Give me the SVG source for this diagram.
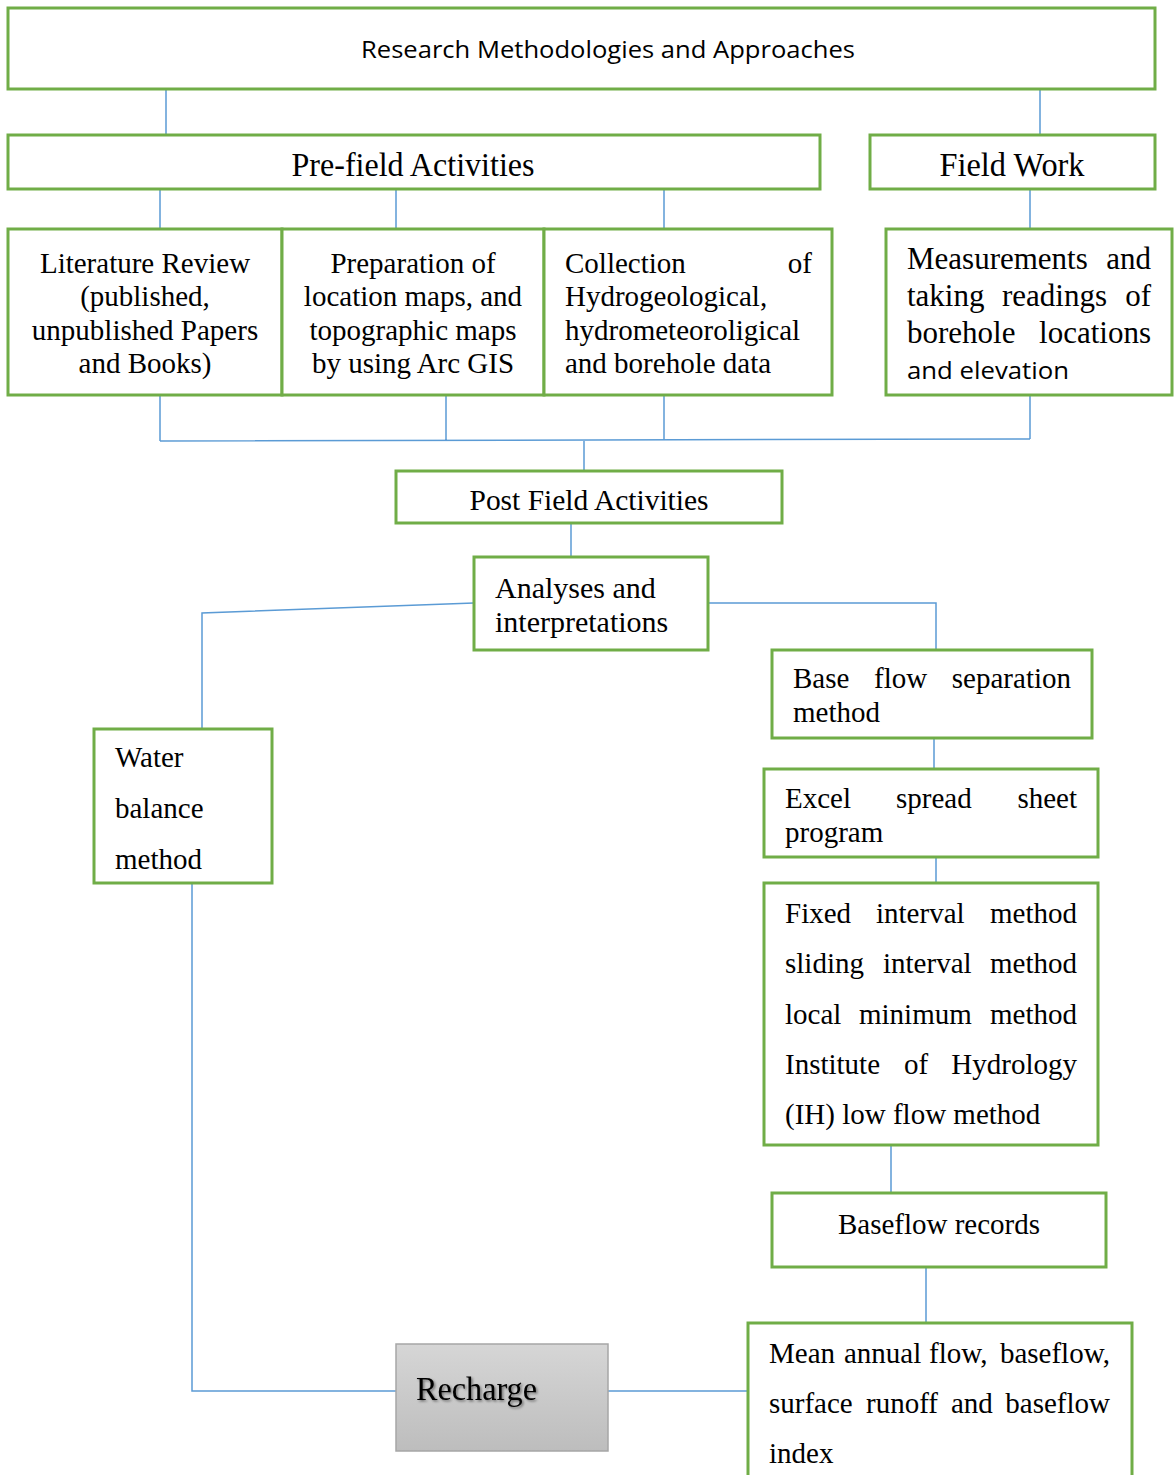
<svg xmlns="http://www.w3.org/2000/svg" width="1175" height="1475" viewBox="0 0 1175 1475">
<defs>
<style>
.box{fill:#fff;stroke:#70AD47;stroke-width:3}
.con{fill:none;stroke:#5B9BD5;stroke-width:1.5}
.t{font-family:"Liberation Serif","Times New Roman",serif;font-size:29px;fill:#000}
.c{text-anchor:middle}
.e{text-anchor:end}
.s{font-family:"Open Sans","Liberation Sans",sans-serif;fill:#000}
.m{font-size:31px}
.a{font-size:30px}
.h{font-size:34px}
</style>
<linearGradient id="gr" x1="0" y1="0" x2="0" y2="1">
<stop offset="0" stop-color="#d6d6d6"/>
<stop offset="1" stop-color="#bdbdbd"/>
</linearGradient>
<filter id="sh" x="-10%" y="-30%" width="120%" height="160%">
<feDropShadow dx="1.5" dy="1.5" stdDeviation="1.2" flood-color="#000" flood-opacity="0.45"/>
</filter>
</defs>
<rect width="1175" height="1475" fill="#fff"/>
<g id="connectors">
<path class="con" d="M166 89V135M1040 89V135"/>
<path class="con" d="M160 189V229M396 189V229M664 189V229M1030 189V229"/>
<path class="con" d="M160 395V441M446 395V440M664 395V440M1030 395V439M160 441L1030 439M584 440V471"/>
<path class="con" d="M571 523V557"/>
<path class="con" d="M474 603L202 613V729M708 603H936V650"/>
<path class="con" d="M934 738V769M936 857V883M891 1145V1193M926 1267V1323"/>
<path class="con" d="M192 883V1391H396M608 1391H748"/>
</g>
<g id="n-title">
<rect class="box" x="8" y="8" width="1147" height="81"/>
<text class="s c" x="608" y="58" font-size="23" textLength="494" lengthAdjust="spacingAndGlyphs">Research Methodologies and Approaches</text>
</g>
<g id="n-prefield">
<rect class="box" x="8" y="135" width="812" height="54"/>
<text class="t c h" x="413" y="176" textLength="243" lengthAdjust="spacingAndGlyphs">Pre-field Activities</text>
</g>
<g id="n-fieldwork">
<rect class="box" x="870" y="135" width="285" height="54"/>
<text class="t c h" x="1012" y="176" textLength="145" lengthAdjust="spacingAndGlyphs">Field Work</text>
</g>
<g id="n-literature">
<rect class="box" x="8" y="229" width="274" height="166"/>
<text class="t c" x="145" y="273">Literature Review</text>
<text class="t c" x="145" y="306">(published,</text>
<text class="t c" x="145" y="340">unpublished Papers</text>
<text class="t c" x="145" y="373">and Books)</text>
</g>
<g id="n-preparation">
<rect class="box" x="282" y="229" width="262" height="166"/>
<text class="t c" x="413" y="273">Preparation of</text>
<text class="t c" x="413" y="306">location maps, and</text>
<text class="t c" x="413" y="340">topographic maps</text>
<text class="t c" x="413" y="373">by using Arc GIS</text>
</g>
<g id="n-collection">
<rect class="box" x="544" y="229" width="288" height="166"/>
<text class="t" x="565" y="273">Collection</text>
<text class="t e" x="812" y="273">of</text>
<text class="t" x="565" y="306">Hydrogeological,</text>
<text class="t" x="565" y="340">hydrometeoroligical</text>
<text class="t" x="565" y="373">and borehole data</text>
</g>
<g id="n-measurements">
<rect class="box" x="886" y="229" width="286" height="166"/>
<text class="t m" x="907" y="269">Measurements</text>
<text class="t m e" x="1151" y="269">and</text>
<text class="t m" x="907" y="306">taking</text>
<text class="t m" x="1002" y="306">readings</text>
<text class="t m e" x="1151" y="306">of</text>
<text class="t m" x="907" y="343">borehole</text>
<text class="t m e" x="1151" y="343">locations</text>
<text class="s" x="907" y="379" font-size="24" textLength="162" lengthAdjust="spacingAndGlyphs">and elevation</text>
</g>
<g id="n-postfield">
<rect class="box" x="396" y="471" width="386" height="52"/>
<text class="t c a" x="589" y="510" textLength="239" lengthAdjust="spacingAndGlyphs">Post Field Activities</text>
</g>
<g id="n-analyses">
<rect class="box" x="474" y="557" width="234" height="93"/>
<text class="t a" x="495" y="598">Analyses and</text>
<text class="t a" x="495" y="632">interpretations</text>
</g>
<g id="n-water">
<rect class="box" x="94" y="729" width="178" height="154"/>
<text class="t" x="115" y="767">Water</text>
<text class="t" x="115" y="818">balance</text>
<text class="t" x="115" y="869">method</text>
</g>
<g id="n-baseflowsep">
<rect class="box" x="772" y="650" width="320" height="88"/>
<text class="t" x="793" y="688">Base</text>
<text class="t" x="874" y="688">flow</text>
<text class="t e" x="1071" y="688">separation</text>
<text class="t" x="793" y="722">method</text>
</g>
<g id="n-excel">
<rect class="box" x="764" y="769" width="334" height="88"/>
<text class="t" x="785" y="808">Excel</text>
<text class="t" x="896" y="808">spread</text>
<text class="t e" x="1077" y="808">sheet</text>
<text class="t" x="785" y="842">program</text>
</g>
<g id="n-methods">
<rect class="box" x="764" y="883" width="334" height="262"/>
<text class="t" x="785" y="923">Fixed</text>
<text class="t" x="876" y="923">interval</text>
<text class="t e" x="1077" y="923">method</text>
<text class="t" x="785" y="973">sliding</text>
<text class="t" x="883" y="973">interval</text>
<text class="t e" x="1077" y="973">method</text>
<text class="t" x="785" y="1024">local</text>
<text class="t" x="859" y="1024">minimum</text>
<text class="t e" x="1077" y="1024">method</text>
<text class="t" x="785" y="1074">Institute</text>
<text class="t" x="904" y="1074">of</text>
<text class="t e" x="1077" y="1074">Hydrology</text>
<text class="t" x="785" y="1124">(IH) low flow method</text>
</g>
<g id="n-records">
<rect class="box" x="772" y="1193" width="334" height="74"/>
<text class="t c" x="939" y="1234">Baseflow records</text>
</g>
<g id="n-mean">
<rect class="box" x="748" y="1323" width="384" height="160"/>
<text class="t" x="769" y="1363">Mean</text>
<text class="t" x="844" y="1363">annual</text>
<text class="t" x="929" y="1363">flow,</text>
<text class="t e" x="1110" y="1363">baseflow,</text>
<text class="t" x="769" y="1413">surface</text>
<text class="t" x="866" y="1413">runoff</text>
<text class="t" x="951" y="1413">and</text>
<text class="t e" x="1110" y="1413">baseflow</text>
<text class="t" x="769" y="1463">index</text>
</g>
<g id="n-recharge">
<rect x="396" y="1344" width="212" height="107" fill="url(#gr)" stroke="#a6a6a6" stroke-width="1.5"/>
<text class="t h" x="416" y="1400" textLength="121" lengthAdjust="spacingAndGlyphs" filter="url(#sh)">Recharge</text>
</g>
</svg>
